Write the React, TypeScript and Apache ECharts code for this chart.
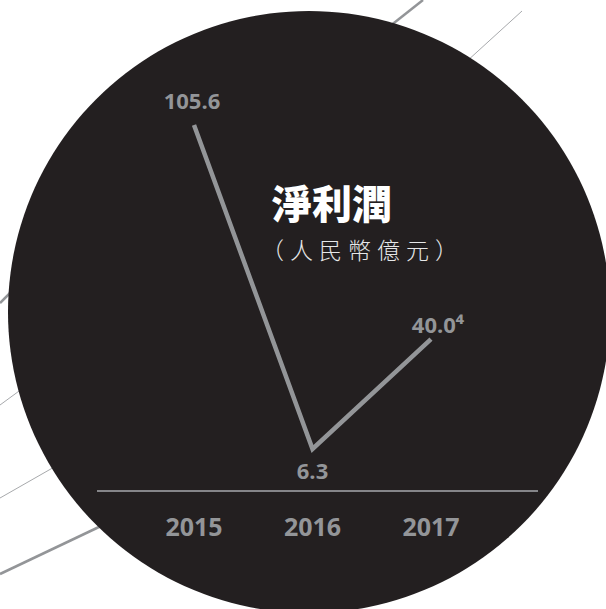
import React, { useEffect, useRef } from "react";
import * as echarts from "echarts";

const years = ["2015", "2016", "2017"];
const netProfit = [105.6, 6.3, 40.0];
const valueLabels = ["105.6", "6.3", "40.0⁴"];
const titleText = "淨利潤";
const subtitleText = "（人民幣億元）";

const GRAY = "#939598";
const LIGHT = "#a7a9ac";
const BLACK = "#231f20";
const NUM_FONT = '"Open Sans", "Noto Sans", sans-serif';
const CJK_FONT = '"Noto Sans CJK TC", "Noto Sans CJK SC", sans-serif';

export default function App() {
  const ref = useRef<HTMLDivElement>(null);

  useEffect(() => {
    if (!ref.current) return;
    const chart = echarts.init(ref.current, undefined, { renderer: "svg" });

    const labelPlacement = [
      { position: "top", distance: 14, offset: [-2, 0] },
      { position: "bottom", distance: 10, offset: [0, 0] },
      { position: "top", distance: 4, offset: [7, 0] },
    ];

    const data = netProfit.map((v, i) => ({
      value: v,
      label: { ...labelPlacement[i] },
    }));

    chart.setOption({
      animation: false,
      backgroundColor: "#ffffff",
      graphic: [
        { type: "line", z: -20, shape: { x1: 423, y1: 0, x2: 380, y2: 34 }, style: { stroke: GRAY, lineWidth: 2.5 } },
        { type: "line", z: -20, shape: { x1: 522, y1: 11, x2: 455, y2: 72 }, style: { stroke: LIGHT, lineWidth: 1 } },
        { type: "line", z: -20, shape: { x1: 0, y1: 303, x2: 20, y2: 283 }, style: { stroke: GRAY, lineWidth: 2.5 } },
        { type: "line", z: -20, shape: { x1: 0, y1: 405, x2: 30, y2: 383 }, style: { stroke: LIGHT, lineWidth: 1 } },
        { type: "line", z: -20, shape: { x1: 0, y1: 498, x2: 70, y2: 458 }, style: { stroke: LIGHT, lineWidth: 1 } },
        { type: "line", z: -20, shape: { x1: 0, y1: 574, x2: 120, y2: 517 }, style: { stroke: GRAY, lineWidth: 2.5 } },
        { type: "circle", z: -10, shape: { cx: 309, cy: 312, r: 301 }, style: { fill: BLACK } },
        { type: "line", z: 1, shape: { x1: 97, y1: 491, x2: 538, y2: 491 }, style: { stroke: LIGHT, lineWidth: 1.5 } },
        {
          type: "text",
          z: 10,
          x: 272,
          y: 202,
          style: {
            text: titleText,
            fill: "#ffffff",
            fontSize: 40,
            fontWeight: 900,
            fontFamily: CJK_FONT,
            textAlign: "left",
            textVerticalAlign: "middle",
          },
        },
        {
          type: "text",
          z: 10,
          x: 261,
          y: 249,
          style: {
            text: subtitleText,
            fill: "#e6e7e8",
            fontSize: 23,
            fontWeight: 300,
            fontFamily: CJK_FONT,
            textAlign: "left",
            textVerticalAlign: "middle",
          },
        },
      ],
      grid: { left: 194, right: 175, top: 110.65, bottom: 139.44, containLabel: false },
      xAxis: {
        type: "category",
        data: years,
        boundaryGap: false,
        axisLine: { show: false },
        axisTick: { show: false },
        splitLine: { show: false },
        axisLabel: {
          margin: 44,
          color: GRAY,
          fontSize: 25,
          fontWeight: "bold",
          fontFamily: NUM_FONT,
        },
        z: 5,
      },
      yAxis: {
        type: "value",
        min: 0,
        max: 110,
        show: false,
        splitLine: { show: false },
      },
      series: [
        {
          type: "line",
          data,
          z: 5,
          symbol: "circle",
          symbolSize: 0.01,
          showSymbol: true,
          itemStyle: { color: GRAY, opacity: 0 },
          lineStyle: { color: GRAY, width: 4.5, join: "miter", cap: "butt", opacity: 1 },
          label: {
            show: true,
            color: GRAY,
            fontSize: 22,
            fontWeight: "bold",
            fontFamily: NUM_FONT,
            opacity: 1,
            formatter: (p: any) => valueLabels[p.dataIndex],
          },
        },
      ],
    });

    const applySpacing = () => {
      if (!ref.current) return;
      ref.current.querySelectorAll("text").forEach((t) => {
        if (t.textContent === subtitleText) {
          t.setAttribute("letter-spacing", "6");
        }
      });
    };
    applySpacing();
    chart.on("finished", applySpacing);
    const timer = setTimeout(applySpacing, 50);

    return () => {
      clearTimeout(timer);
      chart.dispose();
    };
  }, []);

  return (
    <div
      ref={ref}
      style={{ position: "absolute", left: 0, top: 0, width: 606, height: 609 }}
    />
  );
}
